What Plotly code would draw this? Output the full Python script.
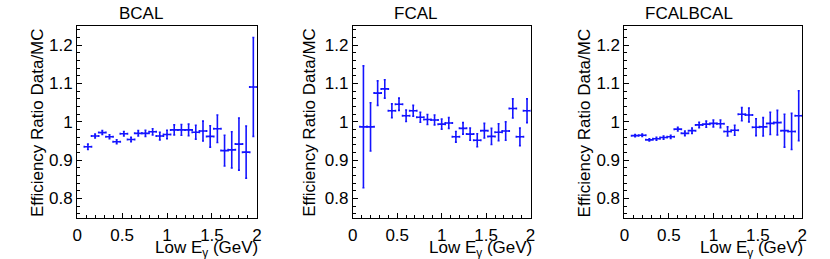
import plotly.graph_objects as go

# bin centres (GeV)
energy = [0.12, 0.20, 0.28, 0.36, 0.44, 0.52, 0.60, 0.68, 0.76, 0.84, 0.92, 1.00,
          1.08, 1.16, 1.24, 1.32, 1.40, 1.48, 1.56, 1.64, 1.72, 1.80, 1.88, 1.96]
half_width = [0.04] * len(energy)

bcal = [0.935, 0.963, 0.972, 0.961, 0.948, 0.969, 0.954, 0.970, 0.970, 0.974, 0.963, 0.967,
        0.979, 0.979, 0.979, 0.973, 0.976, 0.962, 0.982, 0.925, 0.927, 0.942, 0.921, 1.091]
bcal_err = [0.007, 0.005, 0.005, 0.005, 0.005, 0.006, 0.006, 0.007, 0.008, 0.008, 0.010, 0.011,
            0.013, 0.014, 0.015, 0.018, 0.026, 0.028, 0.036, 0.040, 0.047, 0.068, 0.068, 0.129]

fcal = [0.987, 0.987, 1.075, 1.086, 1.029, 1.046, 1.016, 1.029, 1.012, 1.006, 1.005, 0.994,
        0.997, 0.961, 0.983, 0.968, 0.952, 0.977, 0.962, 0.973, 0.976, 1.035, 0.961, 1.029]
fcal_err = [0.159, 0.063, 0.032, 0.024, 0.018, 0.016, 0.015, 0.014, 0.013, 0.013, 0.013, 0.013,
            0.014, 0.014, 0.015, 0.016, 0.017, 0.019, 0.021, 0.022, 0.024, 0.025, 0.023, 0.031]

fcalbcal = [0.964, 0.965, 0.953, 0.956, 0.959, 0.961, 0.981, 0.970, 0.977, 0.992, 0.994, 0.996,
            0.995, 0.975, 0.978, 1.020, 1.018, 0.986, 0.987, 0.996, 0.998, 0.977, 0.975, 1.016]
fcalbcal_err = [0.003, 0.003, 0.003, 0.004, 0.004, 0.004, 0.005, 0.006, 0.007, 0.007, 0.008, 0.009,
                0.010, 0.012, 0.013, 0.017, 0.018, 0.022, 0.024, 0.029, 0.032, 0.043, 0.047, 0.065]

panel_titles = ["BCAL", "FCAL", "FCALBCAL"]
x_ticks = [0, 0.5, 1, 1.5, 2]
x_tick_text = ["0", "0.5", "1", "1.5", "2"]
y_ticks = [0.8, 0.9, 1.0, 1.1, 1.2]
y_tick_text = ["0.8", "0.9", "1", "1.1", "1.2"]

W, H = 830, 259
FONT = "Liberation Sans, Arial, Helvetica, sans-serif"
FS = 17
BLUE = "#1414ff"

panels_px = [(73, 255), (352, 532), (627, 807)]
pad_centres = [138, 415, 692]
ytitle_x = [33, 308, 587]
y_top_px, y_bot_px = 26, 217.7

series = [(bcal, bcal_err), (fcal, fcal_err), (fcalbcal, fcalbcal_err)]

fig = go.Figure()
layout = dict(
    width=W, height=H, margin=dict(l=0, r=0, t=0, b=0),
    paper_bgcolor="white", plot_bgcolor="white",
    showlegend=False, font=dict(family=FONT, size=FS, color="black"),
)
annotations = []
for i, ((vals, errs), (x0, x1)) in enumerate(zip(series, panels_px)):
    n = "" if i == 0 else str(i + 1)
    fig.add_trace(go.Scatter(
        x=energy, y=vals, mode="markers",
        marker=dict(color=BLUE, size=2),
        error_x=dict(type="data", array=half_width, color=BLUE, thickness=1.6, width=1),
        error_y=dict(type="data", array=errs, color=BLUE, thickness=1.6, width=1),
        xaxis="x" + n, yaxis="y" + n,
    ))
    layout["xaxis" + n] = dict(
        domain=[x0 / W, x1 / W], range=[0, 2], anchor="y" + n,
        tickvals=x_ticks, ticktext=x_tick_text, ticks="inside", ticklen=5,
        tickcolor="black", showline=True, linecolor="black", linewidth=1, mirror=True,
        showgrid=False, zeroline=False, tickfont=dict(size=FS), ticklabelstandoff=2,
        minor=dict(ticks="inside", ticklen=3, dtick=0.1, tickcolor="black", showgrid=False),
    )
    layout["yaxis" + n] = dict(
        domain=[1 - y_bot_px / H, 1 - y_top_px / H], range=[0.75, 1.25], anchor="x" + n,
        tickvals=y_ticks, ticktext=y_tick_text, ticks="inside", ticklen=5,
        tickcolor="black", showline=True, linecolor="black", linewidth=1, mirror=True,
        showgrid=False, zeroline=False, tickfont=dict(size=FS),
        minor=dict(ticks="inside", ticklen=3, dtick=0.02, tickcolor="black", showgrid=False),
    )
    annotations.append(dict(text=panel_titles[i], x=pad_centres[i] / W, y=1 - 13 / H,
                            xref="paper", yref="paper", xanchor="center", yanchor="middle",
                            showarrow=False, font=dict(size=FS)))
    annotations.append(dict(text="Low E<sub>γ</sub> (GeV)", x=(x1 + 3) / W, y=1 - 236 / H,
                            xref="paper", yref="paper", xanchor="right", yanchor="top",
                            showarrow=False, font=dict(size=FS)))
    annotations.append(dict(text="Efficiency Ratio Data/MC", x=ytitle_x[i] / W, y=1 - y_top_px / H,
                            xref="paper", yref="paper", xanchor="center", yanchor="top",
                            textangle=-90, showarrow=False, font=dict(size=FS)))
layout["annotations"] = annotations
fig.update_layout(**layout)
fig.write_html("out.html", config={"displayModeBar": False},
               post_script="document.body.style.margin='0';document.body.style.padding='0';")
